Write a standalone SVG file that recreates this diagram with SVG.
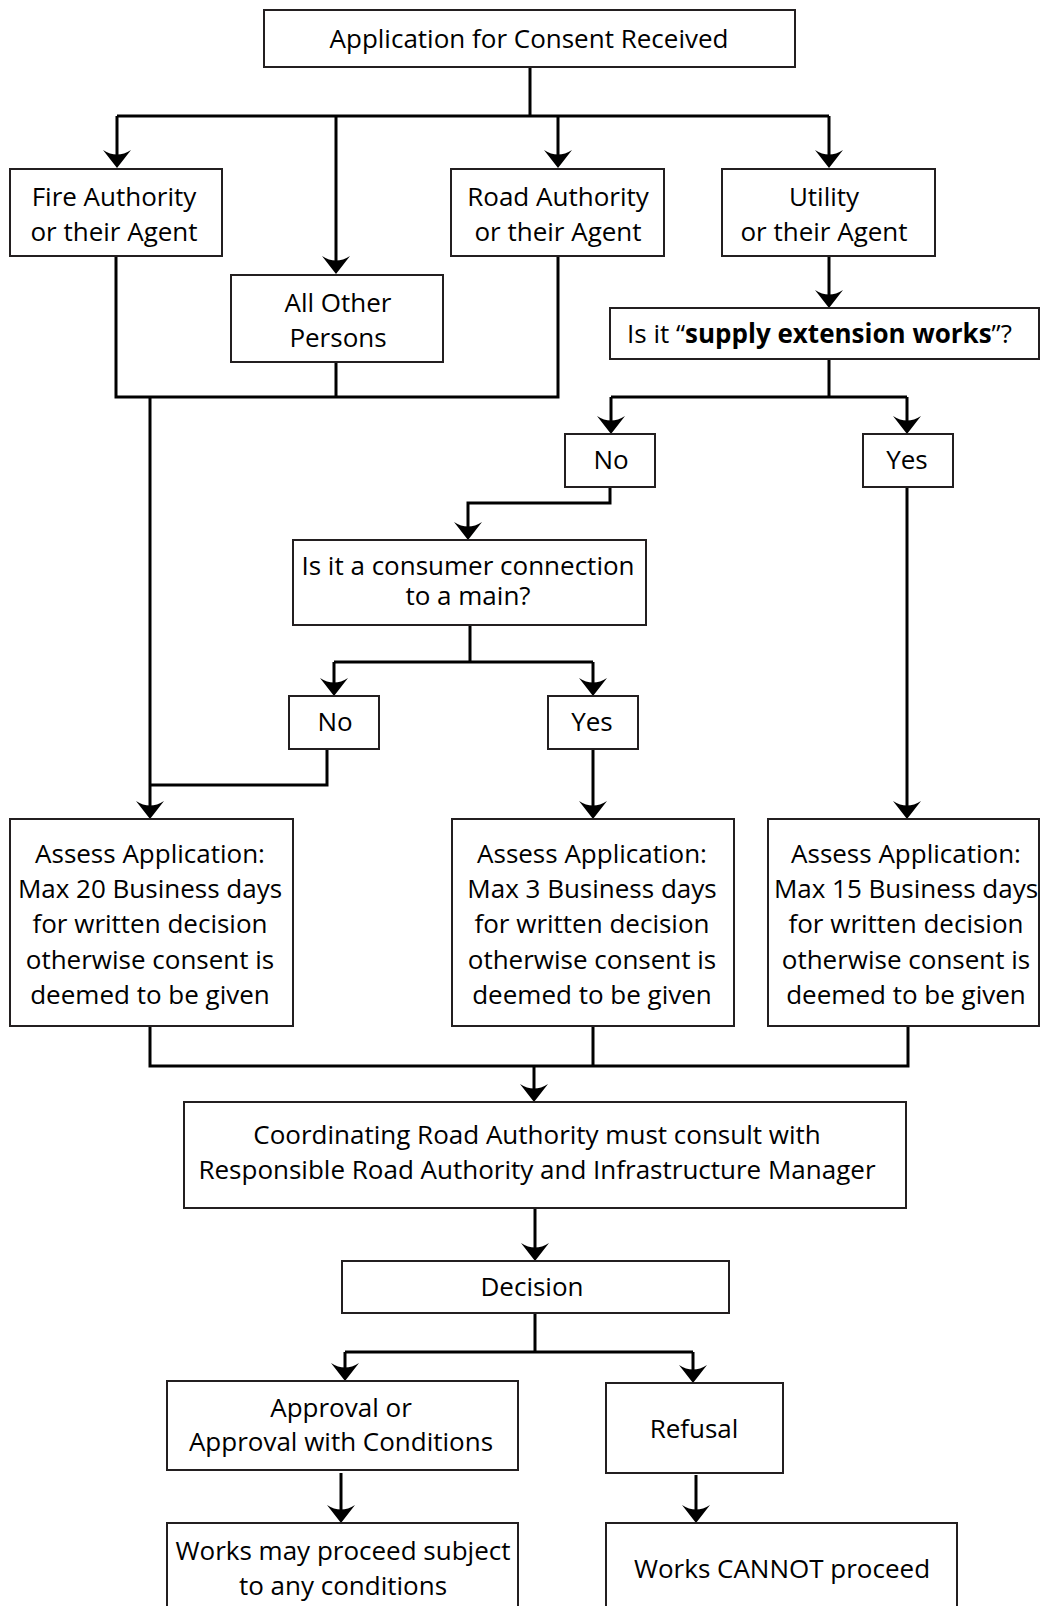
<svg xmlns="http://www.w3.org/2000/svg" xmlns:xlink="http://www.w3.org/1999/xlink" width="1041" height="1606" viewBox="0 0 1041 1606">
<style>
.box{fill:#fff;stroke:#231f20;stroke-width:2}
.t{font-family:"Open Sans","Noto Sans",sans-serif;font-size:26px;fill:#000;text-anchor:middle}
.b{font-weight:bold}
.c{fill:none;stroke:#000;stroke-width:3;stroke-linejoin:miter}
.h{fill:#000;stroke:none}
</style>
<defs>
<path id="ah" d="M0,0 L-14,-18 Q0,-9 14,-18 Z"/>
</defs>
<g id="connectors">
<path class="c" d="M530,67 V116 M117,116 H829"/>
<path class="c" d="M117,116 V160 M336,116 V266 M558,116 V160 M829,116 V160"/>
<path class="c" d="M116,256 V397 H558 V256 M336,362 V397"/>
<path class="c" d="M150,397 V811"/>
<path class="c" d="M829,256 V300"/>
<path class="c" d="M829,359 V397 M611,397 H907 M611,397 V426 M907,397 V426"/>
<path class="c" d="M610,487 V503 H468 V532"/>
<path class="c" d="M470,625 V662 M334,662 H593 M334,662 V688 M593,662 V688"/>
<path class="c" d="M327,749 V785 H150"/>
<path class="c" d="M593,749 V811"/>
<path class="c" d="M907,487 V811"/>
<path class="c" d="M150,1026 V1066 H908 V1026 M593,1026 V1066"/>
<path class="c" d="M534,1066 V1094"/>
<path class="c" d="M535,1208 V1253"/>
<path class="c" d="M535,1313 V1352 M345,1352 H693 M345,1352 V1373 M693,1352 V1375"/>
<path class="c" d="M341,1473 V1515"/>
<path class="c" d="M696,1475 V1515"/>
<use class="h" xlink:href="#ah" href="#ah" x="117" y="168"/>
<use class="h" xlink:href="#ah" href="#ah" x="336" y="274"/>
<use class="h" xlink:href="#ah" href="#ah" x="558" y="168"/>
<use class="h" xlink:href="#ah" href="#ah" x="829" y="168"/>
<use class="h" xlink:href="#ah" href="#ah" x="150" y="819"/>
<use class="h" xlink:href="#ah" href="#ah" x="829" y="308"/>
<use class="h" xlink:href="#ah" href="#ah" x="611" y="434"/>
<use class="h" xlink:href="#ah" href="#ah" x="907" y="434"/>
<use class="h" xlink:href="#ah" href="#ah" x="468" y="540"/>
<use class="h" xlink:href="#ah" href="#ah" x="334" y="696"/>
<use class="h" xlink:href="#ah" href="#ah" x="593" y="696"/>
<use class="h" xlink:href="#ah" href="#ah" x="593" y="819"/>
<use class="h" xlink:href="#ah" href="#ah" x="907" y="819"/>
<use class="h" xlink:href="#ah" href="#ah" x="534" y="1102"/>
<use class="h" xlink:href="#ah" href="#ah" x="535" y="1261"/>
<use class="h" xlink:href="#ah" href="#ah" x="345" y="1381"/>
<use class="h" xlink:href="#ah" href="#ah" x="693" y="1383"/>
<use class="h" xlink:href="#ah" href="#ah" x="341" y="1523"/>
<use class="h" xlink:href="#ah" href="#ah" x="696" y="1523"/>
</g>
<g id="n-start"><rect class="box" x="264" y="10" width="531" height="57"/><text class="t" x="529" y="48">Application for Consent Received</text></g>
<g id="n-fire"><rect class="box" x="10" y="169" width="212" height="87"/><text class="t" x="114" y="206">Fire Authority</text><text class="t" x="114" y="241">or their Agent</text></g>
<g id="n-other"><rect class="box" x="231" y="275" width="212" height="87"/><text class="t" x="338" y="312">All Other</text><text class="t" x="338" y="347">Persons</text></g>
<g id="n-road"><rect class="box" x="451" y="169" width="213" height="87"/><text class="t" x="558" y="206">Road Authority</text><text class="t" x="558" y="241">or their Agent</text></g>
<g id="n-utility"><rect class="box" x="722" y="169" width="213" height="87"/><text class="t" x="824" y="206">Utility</text><text class="t" x="824" y="241">or their Agent</text></g>
<g id="n-supply"><rect class="box" x="610" y="308" width="429" height="51"/><text class="t" x="627" y="343" style="text-anchor:start">Is it “<tspan class="b">supply extension works</tspan>”?</text></g>
<g id="n-no1"><rect class="box" x="565" y="434" width="90" height="53"/><text class="t" x="611" y="469">No</text></g>
<g id="n-yes1"><rect class="box" x="863" y="434" width="90" height="53"/><text class="t" x="907" y="469">Yes</text></g>
<g id="n-consumer"><rect class="box" x="293" y="540" width="353" height="85"/><text class="t" x="468" y="575">Is it a consumer connection</text><text class="t" x="468" y="605">to a main?</text></g>
<g id="n-no2"><rect class="box" x="289" y="696" width="90" height="53"/><text class="t" x="335" y="731">No</text></g>
<g id="n-yes2"><rect class="box" x="548" y="696" width="90" height="53"/><text class="t" x="592" y="731">Yes</text></g>
<g id="n-assess20"><rect class="box" x="10" y="819" width="283" height="207"/><text class="t" x="150" y="863">Assess Application:</text><text class="t" x="150" y="898">Max 20 Business days</text><text class="t" x="150" y="933">for written decision</text><text class="t" x="150" y="969">otherwise consent is</text><text class="t" x="150" y="1004">deemed to be given</text></g>
<g id="n-assess3"><rect class="box" x="452" y="819" width="282" height="207"/><text class="t" x="592" y="863">Assess Application:</text><text class="t" x="592" y="898">Max 3 Business days</text><text class="t" x="592" y="933">for written decision</text><text class="t" x="592" y="969">otherwise consent is</text><text class="t" x="592" y="1004">deemed to be given</text></g>
<g id="n-assess15"><rect class="box" x="768" y="819" width="271" height="207"/><text class="t" x="906" y="863">Assess Application:</text><text class="t" x="906" y="898">Max 15 Business days</text><text class="t" x="906" y="933">for written decision</text><text class="t" x="906" y="969">otherwise consent is</text><text class="t" x="906" y="1004">deemed to be given</text></g>
<g id="n-coord"><rect class="box" x="184" y="1102" width="722" height="106"/><text class="t" x="537" y="1144">Coordinating Road Authority must consult with</text><text class="t" x="537" y="1179">Responsible Road Authority and Infrastructure Manager</text></g>
<g id="n-decision"><rect class="box" x="342" y="1261" width="387" height="52"/><text class="t" x="532" y="1296">Decision</text></g>
<g id="n-approval"><rect class="box" x="167" y="1381" width="351" height="89"/><text class="t" x="341" y="1417">Approval or</text><text class="t" x="341" y="1451">Approval with Conditions</text></g>
<g id="n-refusal"><rect class="box" x="606" y="1383" width="177" height="90"/><text class="t" x="694" y="1438">Refusal</text></g>
<g id="n-proceed"><rect class="box" x="167" y="1523" width="351" height="90"/><text class="t" x="343" y="1560">Works may proceed subject</text><text class="t" x="343" y="1595">to any conditions</text></g>
<g id="n-cannot"><rect class="box" x="606" y="1523" width="351" height="90"/><text class="t" x="782" y="1578">Works CANNOT proceed</text></g>
</svg>
